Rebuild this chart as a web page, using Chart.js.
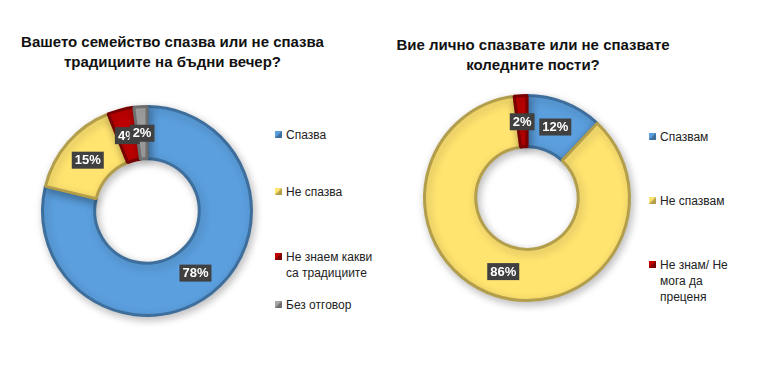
<!DOCTYPE html>
<html>
<head>
<meta charset="utf-8">
<script src="https://cdn.jsdelivr.net/npm/chart.js@4"></script>
<style>
  body { margin: 0; background: #fff; font-family: "Liberation Sans", Arial, sans-serif; }
  #page { position: relative; width: 768px; height: 388px; overflow: hidden; }
  .title { position: absolute; font-weight: bold; font-size: 15px; color: #111; text-align: center; line-height: 20px; }
  .box { position: absolute; }
  .legend { position: absolute; font-size: 12px; color: #222; }
  .legend div { position: absolute; white-space: nowrap; line-height: 16px; }
  .legend i { position: absolute; left: -11px; top: 4px; width: 7px; height: 7px; }
</style>
</head>
<body>
<div id="page">
  <div class="title" id="title1" style="left:0px; top:32px; width:345px;"></div>
  <div class="title" id="title2" style="left:380px; top:35px; width:306px;"></div>
  <div class="box" style="left:31px; top:95px; width:232px; height:232px;"><canvas id="chart1"></canvas></div>
  <div class="box" style="left:413px; top:84px; width:228px; height:228px;"><canvas id="chart2"></canvas></div>
  <div class="legend" id="legend1" style="left:286px; top:0px;"></div>
  <div class="legend" id="legend2" style="left:660px; top:0px;"></div>
</div>
<script>
// left chart
var title1 = ["Вашето семейство спазва или не спазва", "традициите на бъдни вечер?"];
var labels1 = ["Спазва", "Не спазва", "Не знаем какви са традициите", "Без отговор"];
var values1 = [78, 15, 4, 2];
// right chart
var title2 = ["Вие лично спазвате или не спазвате", "коледните пости?"];
var labels2 = ["Спазвам", "Не спазвам", "Не знам/ Не мога да преценя"];
var values2 = [12, 86, 2];

var fills = { blue: "#5B9FDE", yellow: "#FFE470", red: "#C00000", gray: "#A6A6A6" };
var edges = { blue: "#3D6E9C", yellow: "#B39E4C", red: "#780000", gray: "#6E6E6E" };

document.getElementById("title1").innerHTML = title1.join("<br>");
document.getElementById("title2").innerHTML = title2.join("<br>");

// legend rows: [top, width]
function buildLegend(id, labels, colors, rows) {
    var el = document.getElementById(id);
    for (var i = 0; i < labels.length; i++) {
        var d = document.createElement("div");
        d.style.top = rows[i][0] + "px";
        d.style.width = rows[i][1] + "px";
        d.style.whiteSpace = "normal";
        d.innerHTML = '<i style="background:linear-gradient(135deg,' + fills[colors[i]] + ' 40%,' + edges[colors[i]] + ' 60%)"></i>' + labels[i];
        el.appendChild(d);
    }
}
buildLegend("legend1", labels1, ["blue", "yellow", "red", "gray"], [[127, 90], [184, 90], [249, 90], [297, 90]]);
buildLegend("legend2", labels2, ["blue", "yellow", "red"], [[129, 90], [193, 90], [257, 80]]);

// dark boxes with white % text at each slice centre
var pctLabels = {
    id: "pctLabels",
    afterDatasetsDraw: function (chart) {
        var ctx = chart.ctx;
        var meta = chart.getDatasetMeta(0);
        var data = chart.data.datasets[0].data;
        ctx.save();
        ctx.font = "bold 13px 'Liberation Sans', Arial, sans-serif";
        ctx.textAlign = "center";
        ctx.textBaseline = "middle";
        meta.data.forEach(function (arc, i) {
            var p = arc.getCenterPoint(true);
            var txt = data[i] + "%";
            var w = ctx.measureText(txt).width + 6;
            ctx.fillStyle = "#404040";
            ctx.fillRect(p.x - w / 2, p.y - 8, w, 17);
            ctx.fillStyle = "#fff";
            ctx.fillText(txt, p.x, p.y + 1);
        });
        ctx.restore();
    }
};

var shadow = {
    id: "shadow",
    beforeDatasetsDraw: function (chart) {
        var ctx = chart.ctx;
        ctx.save();
        ctx.shadowColor = "rgba(0,0,0,0.25)";
        ctx.shadowBlur = 8;
        ctx.shadowOffsetX = 2;
        ctx.shadowOffsetY = 3;
    },
    afterDatasetsDraw: function (chart) {
        chart.ctx.restore();
    }
};

function makeChart(id, labels, values, colors) {
    return new Chart(document.getElementById(id), {
        type: "doughnut",
        data: {
            labels: labels,
            datasets: [{
                data: values,
                backgroundColor: colors.map(function (c) { return fills[c]; }),
                borderColor: colors.map(function (c) { return edges[c]; }),
                borderWidth: 3,
                hoverOffset: 0
            }]
        },
        options: {
            responsive: true,
            maintainAspectRatio: false,
            animation: false,
            cutout: "50%",
            layout: { padding: 10 },
            plugins: {
                legend: { display: false },
                tooltip: { enabled: false }
            }
        },
        plugins: [shadow, pctLabels]
    });
}

makeChart("chart1", labels1, values1, ["blue", "yellow", "red", "gray"]);
makeChart("chart2", labels2, values2, ["blue", "yellow", "red"]);
</script>
</body>
</html>
